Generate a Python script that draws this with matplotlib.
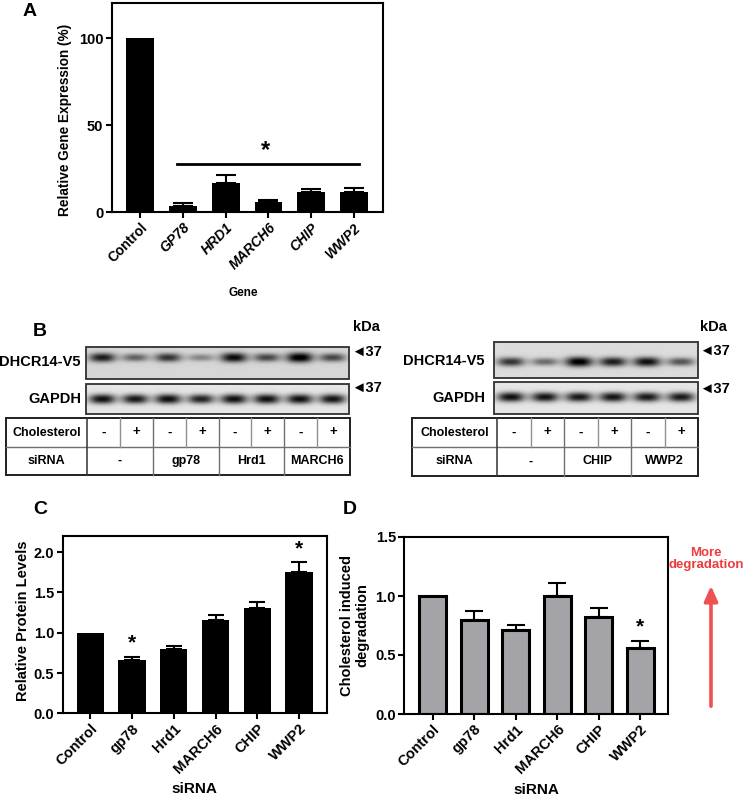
import numpy as np
import matplotlib
matplotlib.use("Agg")
import matplotlib.pyplot as plt
from matplotlib.patches import Rectangle

plt.rcParams['font.family'] = ['Liberation Sans', 'DejaVu Sans']
plt.rcParams['font.weight'] = 'bold'
plt.rcParams['axes.labelweight'] = 'bold'

# ---------------- data ----------------
genes_a = ["Control", "GP78", "HRD1", "MARCH6", "CHIP", "WWP2"]
expr_a = [100, 3.6, 16.9, 5.8, 11.7, 11.3]
err_a = [0, 1.6, 4.6, 1.1, 1.4, 2.7]

sirna_labels = ["Control", "gp78", "Hrd1", "MARCH6", "CHIP", "WWP2"]
protein_c = [1.0, 0.656, 0.80, 1.153, 1.307, 1.751]
err_c = [0, 0.045, 0.04, 0.07, 0.07, 0.125]
sig_c = [False, True, False, False, False, True]

degr_d = [1.0, 0.797, 0.709, 1.0, 0.826, 0.56]
err_d = [0, 0.077, 0.045, 0.107, 0.074, 0.058]
sig_d = [False, False, False, False, False, True]

left_chol = ["-", "+", "-", "+", "-", "+", "-", "+"]
left_sirna = ["-", "gp78", "Hrd1", "MARCH6"]
right_chol = ["-", "+", "-", "+", "-", "+"]
right_sirna = ["-", "CHIP", "WWP2"]
left_dhcr = [0.80, 0.50, 0.70, 0.35, 0.88, 0.62, 0.97, 0.62]
left_gapdh = [0.92, 0.88, 0.93, 0.84, 0.92, 0.92, 0.92, 0.90]
right_dhcr = [0.72, 0.48, 0.97, 0.82, 0.88, 0.58]
right_gapdh = [0.92, 0.90, 0.88, 0.90, 0.88, 0.88]

W, H = 745, 799
fig = plt.figure(figsize=(W / 100, H / 100), dpi=100)

# overlay axes in pixel coordinates
ov = fig.add_axes([0, 0, 1, 1])
ov.set_xlim(0, W)
ov.set_ylim(H, 0)
ov.axis('off')


def fr(l, t, r, b):
    return [l / W, 1 - b / H, (r - l) / W, (b - t) / H]


def style_axes(ax):
    for s in ax.spines.values():
        s.set_linewidth(1.5)
    ax.tick_params(axis='both', direction='out', length=4, width=1.5,
                   labelsize=10.5, pad=2)
    for lab in ax.get_yticklabels():
        lab.set_fontweight('bold')


# ---------------- Panel A ----------------
axA = fig.add_axes(fr(111.7, 3.3, 383.3, 212))
xa = np.arange(len(genes_a))
axA.bar(xa, expr_a, width=0.65, color='black', zorder=2)
axA.errorbar(xa[1:], expr_a[1:], yerr=[np.zeros(len(xa) - 1), err_a[1:]],
             fmt='none', ecolor='black', elinewidth=1.5, capsize=7.5,
             capthick=1.5, zorder=1)
axA.set_xlim(-0.67, 5.69)
axA.set_ylim(0, 120)
axA.set_yticks([0, 50, 100])
axA.set_xticks(xa)
axA.set_xticklabels(genes_a, rotation=45, ha='right', rotation_mode='anchor',
                    fontsize=10, fontweight='bold')
style_axes(axA)
for i, lab in enumerate(axA.get_xticklabels()):
    lab.set_fontsize(10)
    if i > 0:
        lab.set_fontstyle('italic')
axA.set_ylabel("Relative Gene Expression (%)", fontsize=9.8, fontweight='bold')
axA.yaxis.set_label_coords(-0.146, 0.44)
axA.set_xlabel("Gene", fontsize=8.5, fontweight='bold')
axA.xaxis.set_label_coords(0.485, -0.36)
axA.plot([xa[1] - 0.15, xa[-1] + 0.13], [27.6, 27.6], color='black', lw=2)
axA.text((xa[1] + xa[-1]) / 2 - 0.08, 28.8, "*", ha='center', va='bottom',
         fontsize=17, fontweight='bold')

# ---------------- Panel C ----------------
axC = fig.add_axes(fr(62.7, 536, 326.7, 713.3))
xc = np.arange(len(sirna_labels))
axC.bar(xc, protein_c, width=0.655, color='black', zorder=2)
axC.errorbar(xc[1:], protein_c[1:], yerr=[np.zeros(len(xc) - 1), err_c[1:]],
             fmt='none', ecolor='black', elinewidth=1.5, capsize=6,
             capthick=1.5, zorder=1)
for i in range(len(xc)):
    if sig_c[i]:
        axC.text(xc[i], protein_c[i] + err_c[i] + 0.05, "*", ha='center',
                 va='bottom', fontsize=15, fontweight='bold')
axC.set_xlim(-0.66, 5.66)
axC.set_ylim(0, 2.2)
axC.set_yticks([0, 0.5, 1.0, 1.5, 2.0])
axC.set_yticklabels(["0.0", "0.5", "1.0", "1.5", "2.0"])
axC.set_xticks(xc)
axC.set_xticklabels(sirna_labels, rotation=45, ha='right',
                    rotation_mode='anchor', fontsize=10.5, fontweight='bold')
style_axes(axC)
axC.set_ylabel("Relative Protein Levels", fontsize=10.5, fontweight='bold')
axC.yaxis.set_label_coords(-0.125, 0.52)
axC.set_xlabel("siRNA", fontsize=11, fontweight='bold')
axC.xaxis.set_label_coords(0.497, -0.39)

# ---------------- Panel D ----------------
axD = fig.add_axes(fr(404.3, 537, 668, 714))
xd = np.arange(len(sirna_labels))
axD.bar(xd, degr_d, width=0.65, color='#a3a3a8', edgecolor='black',
        linewidth=2.2, zorder=2)
axD.errorbar(xd[1:], degr_d[1:], yerr=[np.zeros(len(xd) - 1), err_d[1:]],
             fmt='none', ecolor='black', elinewidth=1.5, capsize=6.5,
             capthick=1.5, zorder=1)
for i in range(len(xd)):
    if sig_d[i]:
        axD.text(xd[i], degr_d[i] + err_d[i] + 0.04, "*", ha='center',
                 va='bottom', fontsize=15, fontweight='bold')
axD.set_xlim(-0.68, 5.67)
axD.set_ylim(0, 1.5)
axD.set_yticks([0, 0.5, 1.0, 1.5])
axD.set_yticklabels(["0.0", "0.5", "1.0", "1.5"])
axD.set_xticks(xd)
axD.set_xticklabels(sirna_labels, rotation=45, ha='right',
                    rotation_mode='anchor', fontsize=10.5, fontweight='bold')
style_axes(axD)
axD.set_ylabel("Cholesterol induced\ndegradation", fontsize=10.5,
               fontweight='bold', linespacing=1.15)
axD.yaxis.set_label_coords(-0.132, 0.5)
axD.set_xlabel("siRNA", fontsize=11, fontweight='bold')
axD.xaxis.set_label_coords(0.502, -0.39)

# red arrow + text
red = '#ee3b3b'
ov.annotate("", xy=(711, 583), xytext=(711, 709),
            arrowprops=dict(arrowstyle='-|>,head_width=0.4,head_length=0.9',
                            color='#f05050', lw=2.6))
ov.text(706, 559, "More\ndegradation", color=red, ha='center', va='center',
        fontsize=9.5, fontweight='bold', linespacing=1.05)

# ---------------- Panel B (blots) ----------------
def draw_blot(x0, y0, x1, y1, intens, cy_frac, bg):
    scale = 4
    w, h = x1 - x0, y1 - y0
    Wp, Hp = int(w * scale), int(h * scale)
    xs = (np.arange(Wp) + 0.5) / scale
    ys = (np.arange(Hp) + 0.5) / scale
    X, Y = np.meshgrid(xs, ys)
    img = np.full((Hp, Wp), bg)
    n = len(intens)
    lw_ = w / n
    cy = h * cy_frac
    for i, v in enumerate(intens):
        cx = (i + 0.5) * lw_
        sx = lw_ * 0.40
        sy = 2.8 + 2.2 * v
        prof = np.exp(-np.abs((X - cx) / sx) ** 2.6 - np.abs((Y - cy) / sy) ** 2.2)
        img = img - v * 0.92 * prof
    img = np.clip(img, 0, 1)
    ov.imshow(img, cmap='gray', vmin=0, vmax=1, extent=[x0, x1, y1, y0],
              aspect='auto', interpolation='bilinear', zorder=1)
    ov.add_patch(Rectangle((x0, y0), w, h, fill=False, edgecolor='#303030',
                           lw=1.3, zorder=2))


def draw_table(x0, y0, x1, y1, ymid, xcol, chol, sirna):
    ov.add_patch(Rectangle((x0, y0), x1 - x0, y1 - y0, facecolor='white',
                           edgecolor='#202020', lw=1.4, zorder=2))
    ov.plot([x0, x1], [ymid, ymid], color='#707070', lw=1.0, zorder=3)
    ov.plot([xcol, xcol], [y0, y1], color='#303030', lw=1.1, zorder=3)
    n = len(chol)
    lw_ = (x1 - xcol) / n
    for i in range(1, n):
        xx = xcol + i * lw_
        if i % 2 == 0:
            ov.plot([xx, xx], [y0, y1], color='#707070', lw=1.0, zorder=3)
        else:
            ov.plot([xx, xx], [y0, ymid], color='#909090', lw=1.0, zorder=3)
    for i, c in enumerate(chol):
        ov.text(xcol + (i + 0.5) * lw_, (y0 + ymid) / 2, c, ha='center',
                va='center', fontsize=9.5, fontweight='bold', zorder=4)
    for j, s in enumerate(sirna):
        ov.text(xcol + (2 * j + 1) * lw_, (ymid + y1) / 2, s, ha='center',
                va='center', fontsize=9, fontweight='bold', zorder=4)
    ov.text((x0 + xcol) / 2, (y0 + ymid) / 2, "Cholesterol", ha='center',
            va='center', fontsize=9, fontweight='bold', zorder=4)
    ov.text((x0 + xcol) / 2, (ymid + y1) / 2, "siRNA", ha='center',
            va='center', fontsize=9, fontweight='bold', zorder=4)


# left blot
draw_blot(86, 347, 349, 379, left_dhcr, 0.33, 0.84)
draw_blot(86, 384, 349, 414, left_gapdh, 0.5, 0.90)
draw_table(6, 418, 350, 475, 447, 87, left_chol, left_sirna)
ov.text(81, 362, "DHCR14-V5", ha='right', va='center', fontsize=10.5,
        fontweight='bold')
ov.text(81, 399, "GAPDH", ha='right', va='center', fontsize=10.5,
        fontweight='bold')
ov.text(353, 327, "kDa", ha='left', va='center', fontsize=10.5,
        fontweight='bold')
for yy in (352, 388):
    ov.text(351, yy, "\u25c437", ha='left', va='center', fontsize=10.5,
            fontweight='bold')

# right blot
draw_blot(494, 342, 698, 378, right_dhcr, 0.55, 0.86)
draw_blot(494, 382, 698, 414, right_gapdh, 0.47, 0.90)
draw_table(412, 418, 698, 476, 447, 497, right_chol, right_sirna)
ov.text(485, 361, "DHCR14-V5", ha='right', va='center', fontsize=10.5,
        fontweight='bold')
ov.text(485, 398, "GAPDH", ha='right', va='center', fontsize=10.5,
        fontweight='bold')
ov.text(700, 327, "kDa", ha='left', va='center', fontsize=10.5,
        fontweight='bold')
for yy in (351, 389):
    ov.text(699, yy, "\u25c437", ha='left', va='center', fontsize=10.5,
            fontweight='bold')

# panel letters
for lbl, px, py in (("A", 23, 12), ("B", 33, 332), ("C", 33, 510),
                    ("D", 343, 510)):
    ov.text(px, py, lbl, ha='left', va='center', fontsize=14,
            fontweight='bold')

fig.savefig("out.png", dpi=100)
